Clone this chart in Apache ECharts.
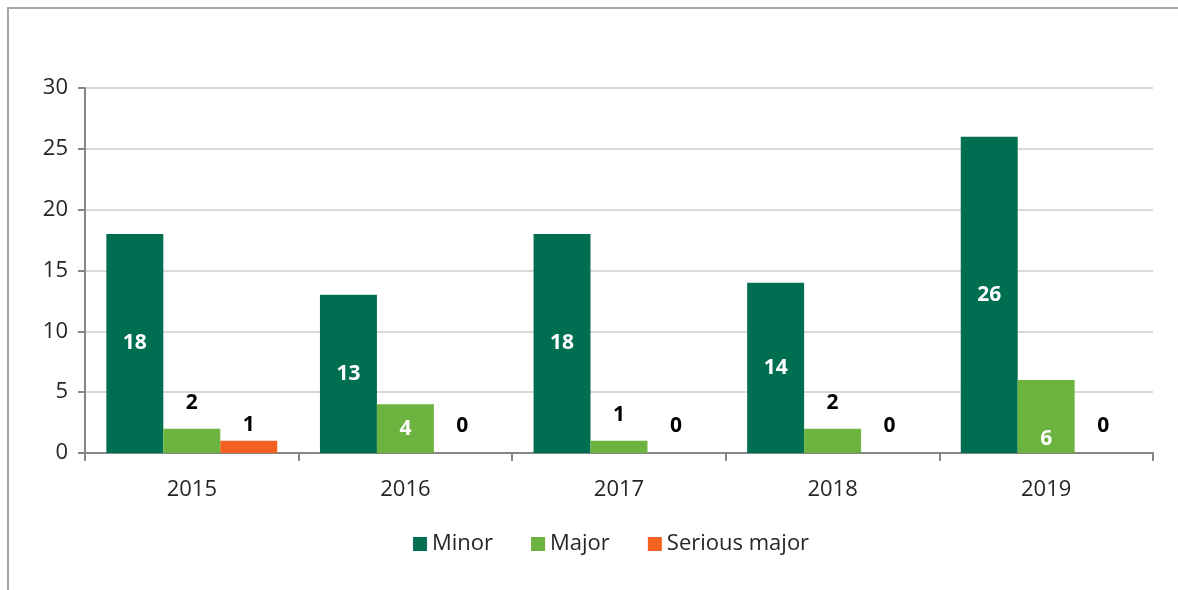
<!DOCTYPE html>
<html>
<head>
<meta charset="utf-8">
<script src="https://cdn.jsdelivr.net/npm/echarts@6/dist/echarts.min.js"></script>
<style>
  html, body { margin: 0; padding: 0; background: #fff; }
  #chart { width: 1178px; height: 590px; }
</style>
</head>
<body>
<div id="chart"></div>
<script>
const years = ['2015', '2016', '2017', '2018', '2019'];
const minor = [18, 13, 18, 14, 26];
const major = [2, 4, 1, 2, 6];
const seriousMajor = [1, 0, 0, 0, 0];
const yTicks = [0, 5, 10, 15, 20, 25, 30];

const font = '"Open Sans", "Noto Sans", sans-serif';

// Excel placed some labels by hand: white ones sit inside, black ones above
function majorData() {
  return major.map((v, i) => {
    if (i === 1) return { value: v, label: { position: 'inside', color: '#fff' } };
    if (i === 4) return { value: v, label: { position: 'insideBottom', distance: 3, color: '#fff' } };
    return { value: v, label: { position: 'top', distance: 15, color: '#000' } };
  });
}
function seriousData() {
  return seriousMajor.map((v, i) => ({
    value: v,
    label: { position: 'top', distance: i === 0 ? 5 : 16, color: '#000' }
  }));
}

const chart = echarts.init(document.getElementById('chart'));
const labelBase = { show: true, fontFamily: font, fontSize: 21, fontWeight: 'bold' };

chart.setOption({
  animation: false,
  graphic: [{
    type: 'rect',
    shape: { x: 8, y: 8, width: 1300, height: 700 },
    style: { fill: 'none', stroke: '#a6a6a6', lineWidth: 2 },
    silent: true
  }],
  grid: { left: 85, right: 25, top: 88, bottom: 137 },
  legend: {
    bottom: 30,
    left: 408,
    itemWidth: 14,
    itemHeight: 14,
    itemGap: 38,
    icon: 'rect',
    textStyle: { fontFamily: font, fontSize: 22, color: '#262626' }
  },
  xAxis: {
    type: 'category',
    data: years,
    axisLine: { lineStyle: { color: '#868686', width: 2 } },
    axisTick: { show: true, length: 8, lineStyle: { color: '#868686', width: 2 } },
    axisLabel: { fontFamily: font, fontSize: 22, color: '#262626', margin: 26 }
  },
  yAxis: {
    type: 'value',
    min: yTicks[0],
    max: yTicks[yTicks.length - 1],
    interval: 5,
    axisLine: { show: true, lineStyle: { color: '#868686', width: 2 } },
    axisTick: { show: true, length: 7, lineStyle: { color: '#868686', width: 2 } },
    axisLabel: { fontFamily: font, fontSize: 22, color: '#262626', margin: 17 },
    splitLine: { lineStyle: { color: '#d9d9d9', width: 2 } }
  },
  series: [
    {
      name: 'Minor',
      type: 'bar',
      data: minor,
      barGap: '0%',
      barCategoryGap: '20%',
      itemStyle: { color: '#006f51' },
      label: Object.assign({}, labelBase, { position: 'inside', color: '#fff' })
    },
    {
      name: 'Major',
      type: 'bar',
      data: majorData(),
      itemStyle: { color: '#6db33f' },
      label: labelBase
    },
    {
      name: 'Serious major',
      type: 'bar',
      data: seriousData(),
      itemStyle: { color: '#f26122' },
      label: labelBase
    }
  ]
});
</script>
</body>
</html>
